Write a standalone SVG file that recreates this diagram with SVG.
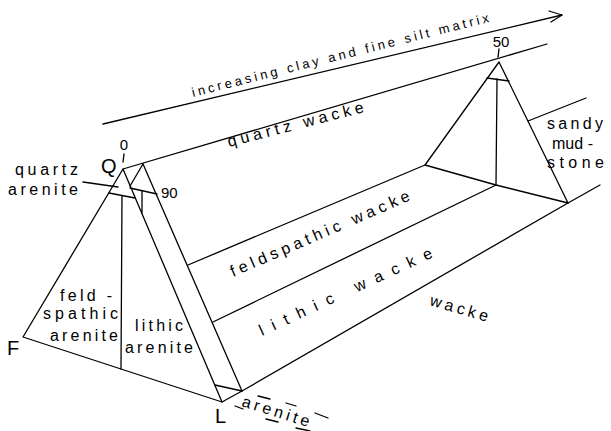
<svg xmlns="http://www.w3.org/2000/svg" width="611" height="431" viewBox="0 0 611 431">
<defs>
<style>
.ln{stroke:#000;stroke-width:1.3;fill:none;stroke-linecap:round;stroke-linejoin:round}
.t{font-family:"Liberation Sans",Arial,sans-serif;font-size:16px;fill:#000}
.s{font-family:"Liberation Sans",Arial,sans-serif;font-size:13px;fill:#000}
.big{font-family:"Liberation Sans",Arial,sans-serif;font-size:20px;fill:#000}
.num{font-family:"Liberation Sans",Arial,sans-serif;font-size:15px;fill:#000}
</style>
</defs>
<rect width="611" height="431" fill="#fff"/>

<g id="arrow">
<path class="ln" d="M103,124 L562,15"/>
<path class="ln" d="M549,11 L562,15 L551,22"/>
</g>

<g id="front-triangle">
<path class="ln" d="M123,169 L23,337 L222,402 Z"/>
<path class="ln" d="M109,193 L135,198"/>
<path class="ln" d="M122,196 L121,369"/>
<path class="ln" d="M83,182 L118,187"/>
</g>

<g id="arenite-strip">
<path class="ln" d="M143,164 L242,391 L222,402"/>
<path class="ln" d="M215,385 L242,391"/>
<path class="ln" d="M143,164 L130,186"/>
<path class="ln" d="M130,188 L157,194"/>
<path class="ln" d="M142,191 L142,213"/>
</g>

<g id="prism-edges">
<path class="ln" d="M123,169 L547,44"/>
<path class="ln" d="M188,265 L425,165"/>
<path class="ln" d="M213,322 L496,185"/>
<path class="ln" d="M242,391 L568,203"/>
<path class="ln" d="M528,121 L586,98"/>
<path class="ln" d="M568,203 L600,185"/>
</g>

<g id="back-triangle">
<path class="ln" d="M425,165 L499,62 L568,203 L496,185 Z"/>
<path class="ln" d="M487,78 L509,81"/>
<path class="ln" d="M497,79 L496,185"/>
</g>

<g id="ticks">
<path class="ln" d="M124,154 L123,162"/>
<path class="ln" d="M499,49 L498,57"/>
</g>

<g id="labels">
<text class="s" transform="translate(193,97) rotate(-14.2)" textLength="306" lengthAdjust="spacing">increasing clay and fine silt matrix</text>
<text class="t" transform="translate(229,147) rotate(-14.5)" textLength="140" lengthAdjust="spacing">quartz  wacke</text>
<text class="t" transform="translate(233,277) rotate(-23.4)" textLength="194" lengthAdjust="spacing">feldspathic wacke</text>
<text class="t" transform="translate(262,336) rotate(-24.7)" textLength="189" lengthAdjust="spacing">lithic wacke</text>
<text class="t" transform="translate(429,305) rotate(16.3)" textLength="60" lengthAdjust="spacing">wacke</text>
<text class="t" transform="translate(241,406) rotate(17.4)" textLength="70" lengthAdjust="spacing">arenite</text>
<g id="arenite-dashes">
<path class="ln" d="M235,406 L243,409"/>
<path class="ln" d="M258,396 L270,399"/>
<path class="ln" d="M266,419 L278,422"/>
<path class="ln" d="M286,403 L296,406"/>
<path class="ln" d="M296,428 L310,431"/>
<path class="ln" d="M315,413 L328,418"/>
</g>
<text class="t" x="547" y="129" textLength="56" lengthAdjust="spacing">sandy</text>
<text class="t" x="552" y="149" textLength="41" lengthAdjust="spacing">mud -</text>
<text class="t" x="547" y="168" textLength="57" lengthAdjust="spacing">stone</text>
<text class="t" x="15" y="175" textLength="63" lengthAdjust="spacing">quartz</text>
<text class="t" x="8" y="195" textLength="70" lengthAdjust="spacing">arenite</text>
<text class="t" x="60" y="301" textLength="52" lengthAdjust="spacing">feld -</text>
<text class="t" x="43" y="319" textLength="75" lengthAdjust="spacing">spathic</text>
<text class="t" x="50" y="341" textLength="68" lengthAdjust="spacing">arenite</text>
<text class="t" x="135" y="331" textLength="48" lengthAdjust="spacing">lithic</text>
<text class="t" x="125" y="353" textLength="68" lengthAdjust="spacing">arenite</text>
<text class="big" x="101" y="173">Q</text>
<text class="big" x="7" y="355">F</text>
<text class="big" x="215" y="423">L</text>
<text class="num" x="124" y="150" text-anchor="middle">0</text>
<text class="num" x="161" y="198">90</text>
<text class="num" x="501" y="47" text-anchor="middle">50</text>
</g>
</svg>
